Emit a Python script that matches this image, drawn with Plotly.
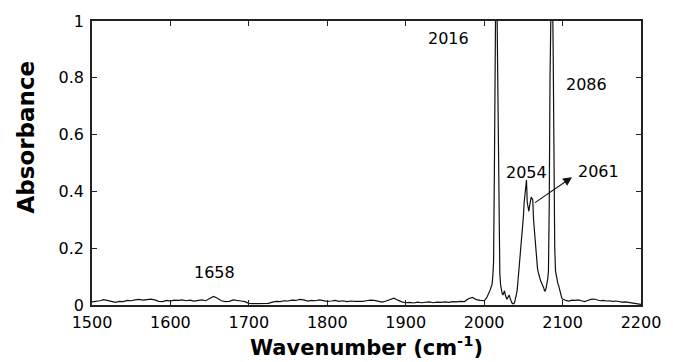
import plotly.graph_objects as go

# ---- data ----
wn_base = list(range(1500, 2000, 5))
abs_base = [
    .011, .012, .015, .019, .016, .012, .009, .013, .012, .016,
    .015, .018, .020, .017, .019, .021, .018, .013, .012, .016,
    .014, .017, .016, .018, .015, .017, .014, .016, .018, .015,
    .022, .030, .024, .015, .012, .013, .018, .017, .014, .012,
    .006, .005, .005, .006, .005, .006, .010, .013, .012, .015,
    .014, .017, .016, .020, .018, .014, .016, .015, .018, .016,
    .013, .014, .016, .013, .015, .012, .014, .013, .012, .013,
    .015, .017, .016, .012, .010, .014, .019, .024, .017, .011,
    .008, .009, .007, .010, .008, .009, .011, .008, .010, .009,
    .011, .009, .012, .011, .013, .012, .022, .027, .019, .016,
]

wn_peak = list(range(2000, 2101))
abs_peak = [
    .015, .018, .020, .025, .030, .035, .040, .045, .055, .065,   # 2000-2009
    .070, .100, .150, .450, 1.05, 1.20, 1.15, .900, .450, .200,   # 2010-2019
    .110, .070, .050, .040, .035, .045, .050, .035, .025, .020,   # 2020-2029
    .025, .030, .035, .025, .015, .010, .005, .004, .005, .010,   # 2030-2039
    .020, .035, .050, .080, .110, .145, .170, .200, .240, .280,   # 2040-2049
    .310, .360, .390, .430, .440, .360, .340, .330, .350, .370,   # 2050-2059
    .380, .375, .370, .300, .260, .220, .180, .150, .130, .115,   # 2060-2069
    .100, .095, .085, .080, .070, .068, .060, .050, .050, .060,   # 2070-2079
    .075, .090, .120, .350, .800, 1.10, 1.20, 1.15, .900, .450,   # 2080-2089
    .200, .120, .100, .085, .075, .068, .055, .040, .030, .025,   # 2090-2099
    .021,                                                          # 2100
]

wn_tail = list(range(2104, 2201, 4))
abs_tail = [
    .016, .014, .017, .016, .018, .015, .012, .016, .020, .021,
    .017, .015, .016, .014, .015, .013, .014, .012, .010, .011,
    .009, .007, .004, .002, .002,
]

wavenumber = wn_base + wn_peak + wn_tail
absorbance = abs_base + abs_peak + abs_tail

x_ticks = [1500, 1600, 1700, 1800, 1900, 2000, 2100, 2200]
y_ticks = [0, 0.2, 0.4, 0.6, 0.8, 1]
y_tick_text = ["0", "0.2", "0.4", "0.6", "0.8", "1"]

peak_labels = ["2016", "2086", "2054", "2061", "1658"]
label_x = [1954, 2131, 2054, 2146, 1656]
label_y = [0.94, 0.775, 0.465, 0.47, 0.113]

arrow_tail = (2063, 0.357)
arrow_head = (2112, 0.45)

FONT = "DejaVu Sans, Liberation Sans, Arial, sans-serif"

fig = go.Figure()
fig.add_trace(go.Scatter(
    x=wavenumber, y=absorbance, mode="lines",
    line=dict(color="#111111", width=1.2),
    showlegend=False, hoverinfo="skip",
))

for t, xx, yy in zip(peak_labels, label_x, label_y):
    fig.add_annotation(x=xx, y=yy, text=t, showarrow=False,
                       font=dict(family=FONT, size=16, color="black"))

fig.add_annotation(
    x=arrow_head[0], y=arrow_head[1], ax=arrow_tail[0], ay=arrow_tail[1],
    xref="x", yref="y", axref="x", ayref="y", text="",
    showarrow=True, arrowhead=2, arrowsize=1.6, arrowwidth=1.1,
    arrowcolor="#111111", standoff=0, startstandoff=0,
)

# y-axis title placed as in the reference (slightly above plot centre)
fig.add_annotation(
    x=-0.12, y=0.59, xref="paper", yref="paper", text="<b>Absorbance</b>",
    textangle=-90, showarrow=False, xanchor="center", yanchor="middle",
    font=dict(family=FONT, size=23, color="black"),
)

axis_common = dict(
    showline=True, linecolor="#222222", linewidth=1.5, mirror="ticks",
    ticks="inside", ticklen=5, tickwidth=1, tickcolor="#222222",
    showgrid=False, zeroline=False,
    tickfont=dict(family=FONT, size=16, color="black"),
)

fig.update_xaxes(
    range=[1500, 2200], tickvals=x_ticks, ticklabelstandoff=2,
    title=dict(text="<b>Wavenumber (cm<sup>-1</sup>)</b>",
               font=dict(family=FONT, size=21, color="black"), standoff=3),
    **axis_common,
)
fig.update_yaxes(
    range=[0, 1], tickvals=y_ticks, ticktext=y_tick_text,
    ticklabelstandoff=3,
    **axis_common,
)

fig.update_layout(
    width=673, height=362,
    margin=dict(l=92, r=25, t=20, b=49),
    paper_bgcolor="white", plot_bgcolor="white",
    font=dict(family=FONT),
)

# remove the browser's default 8px body margin so the figure fills the window
fig.write_html("out.html",
               config={"displayModeBar": False},
               post_script="document.body.style.margin='0';")
